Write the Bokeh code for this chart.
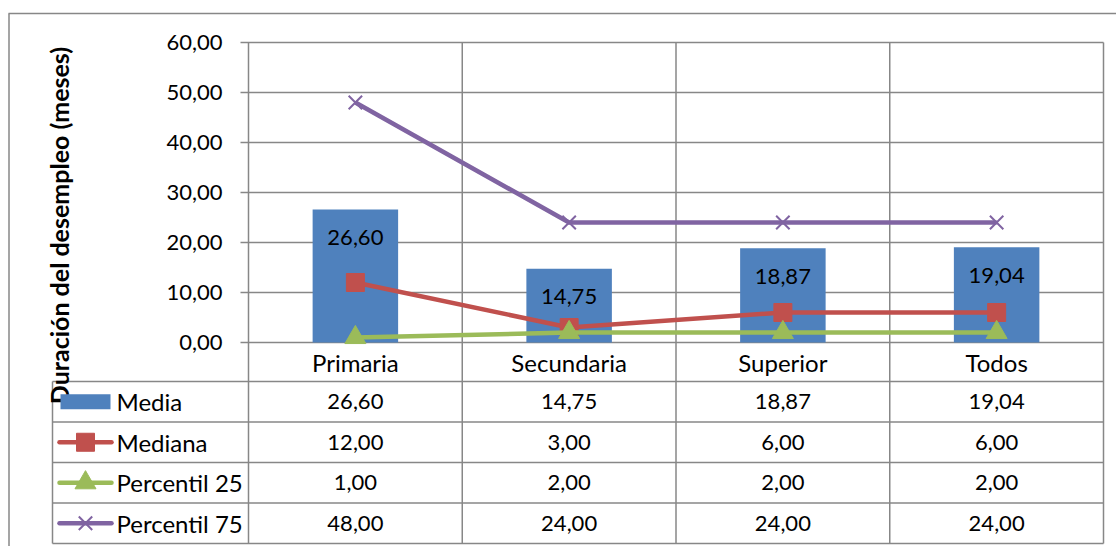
from bokeh.plotting import figure
from bokeh.models import Range1d, ColumnDataSource
from bokeh.core.properties import value
from bokeh.embed import file_html
from bokeh.resources import INLINE

# ---------------- data ----------------
categories = ["Primaria", "Secundaria", "Superior", "Todos"]
media = [26.60, 14.75, 18.87, 19.04]
mediana = [12.00, 3.00, 6.00, 6.00]
percentil_25 = [1.00, 2.00, 2.00, 2.00]
percentil_75 = [48.00, 24.00, 24.00, 24.00]
series_names = ["Media", "Mediana", "Percentil 25", "Percentil 75"]
y_ticks = [0, 10, 20, 30, 40, 50, 60]
y_title = "Duración del desempleo (meses)"

series_values = [media, mediana, percentil_25, percentil_75]


def fmt(v):
    return f"{v:.2f}".replace(".", ",")


# ---------------- layout (page pixels) ----------------
W, H = 1116, 546          # figure size, placed at page (0, 0)
X0, XU = 248.0, 213.75    # page x of category 0 left edge, px per category
Y0, YU = 342.0, 5.0       # page y of value 0, px per unit
CAT_ROW_H = 39.0
ROW_H = 40.5
TABLE_LEFT = 52.0

FONT = "Lato"
FS_NUM = "22px"
FS_TXT = "24px"
FS_TITLE = "25px"
GRID = "#878787"
C_BAR = "#4F81BD"
C_MED = "#C0504D"
C_P25 = "#9BBB59"
C_P75 = "#8064A2"


def dx(px):
    return (px - X0) / XU


def dy(py):
    return (Y0 - py) / YU


p = figure(width=W, height=H,
           x_range=Range1d(dx(0), dx(W)),
           y_range=Range1d(dy(H), dy(0)),
           x_axis_location=None, y_axis_location=None,
           output_backend="svg", toolbar_location=None,
           min_border=0)
p.grid.visible = False
p.outline_line_color = None
p.background_fill_color = "white"
p.border_fill_color = "white"

n = len(categories)
ymax = max(y_ticks)
table_top = dy(Y0 + CAT_ROW_H)
row_edges = [dy(Y0 + CAT_ROW_H + ROW_H * k) for k in range(len(series_names) + 1)]
table_bottom = row_edges[-1]
row_centers = [(row_edges[k] + row_edges[k + 1]) / 2 for k in range(len(series_names))]

# outer chart border (top and left)
p.segment(x0=[dx(8), dx(8.5)], y0=[dy(13), dy(13)], x1=[dx(W), dx(8.5)], y1=[dy(13), dy(H)],
          line_color=GRID, line_width=1.5)

# horizontal gridlines with tick stubs
p.segment(x0=[dx(240)] * len(y_ticks), y0=y_ticks, x1=[n] * len(y_ticks), y1=y_ticks,
          line_color=GRID, line_width=1.5)
# vertical lines (category boundaries through table)
p.segment(x0=list(range(n + 1)), y0=[ymax] * (n + 1), x1=list(range(n + 1)), y1=[table_bottom] * (n + 1),
          line_color=GRID, line_width=1.5)
# table horizontal lines
p.segment(x0=[dx(TABLE_LEFT)] * len(row_edges), y0=row_edges, x1=[n] * len(row_edges), y1=row_edges,
          line_color=GRID, line_width=1.5)
# table left border
p.segment(x0=[dx(TABLE_LEFT)], y0=[table_top], x1=[dx(TABLE_LEFT)], y1=[table_bottom],
          line_color=GRID, line_width=1.5)

# y tick labels
p.text(x=[dx(222)] * len(y_ticks), y=y_ticks, text=[fmt(t) for t in y_ticks],
       text_align="right", text_baseline="middle", text_font=value(FONT),
       text_font_size=FS_NUM, text_color="black")

# y title
p.text(x=[dx(58)], y=[dy(225)], text=[y_title], angle=1.5707963,
       text_align="center", text_baseline="middle", text_font=value(FONT),
       text_font_size=FS_TITLE, text_font_style="bold", text_color="black")

xc = [i + 0.5 for i in range(n)]
src = ColumnDataSource(dict(x=xc, cat=categories, media=media, mediana=mediana,
                            p25=percentil_25, p75=percentil_75,
                            media_lbl=[fmt(v) for v in media],
                            lbl_y=[v - 28 / YU for v in media]))

# bars
p.vbar(x="x", top="media", bottom=0, width=0.4, source=src,
       fill_color=C_BAR, line_color=None)

# lines
p.line(x="x", y="mediana", source=src, line_color=C_MED, line_width=4.5, line_join="round")
p.scatter(x="x", y="mediana", source=src, marker="square", size=18,
          fill_color=C_MED, line_color=C_MED)
p.line(x="x", y="p25", source=src, line_color=C_P25, line_width=4.5, line_join="round")
p.scatter(x="x", y="p25", source=src, marker="triangle", size=21,
          fill_color=C_P25, line_color=C_P25)
p.line(x="x", y="p75", source=src, line_color=C_P75, line_width=4.5, line_join="round")
p.scatter(x="x", y="p75", source=src, marker="x", size=19,
          line_color=C_P75, line_width=2)

# bar data labels
p.text(x="x", y="lbl_y", text="media_lbl", source=src, text_align="center",
       text_baseline="middle", text_font=value(FONT), text_font_size=FS_NUM, text_color="black")

# category labels
p.text(x=xc, y=[dy(Y0 + CAT_ROW_H / 2)] * n, text=categories, text_align="center",
       text_baseline="middle", text_font=value(FONT), text_font_size=FS_TXT, text_color="black")

# table values
for k, vals in enumerate(series_values):
    p.text(x=xc, y=[row_centers[k]] * n, text=[fmt(v) for v in vals], text_align="center",
           text_baseline="middle", text_font=value(FONT), text_font_size=FS_NUM, text_color="black")

# legend column: names
p.text(x=[dx(116)] * len(series_names), y=row_centers, text=series_names, text_align="left",
       text_baseline="middle", text_font=value(FONT), text_font_size=FS_TXT, text_color="black")

# legend swatches
p.rect(x=[dx(85)], y=[row_centers[0]], width=50, height=15, width_units="screen",
       height_units="screen", fill_color=C_BAR, line_color=None)
for k, (col, mk) in enumerate([(C_MED, "square"), (C_P25, "triangle"), (C_P75, "x")], start=1):
    p.line(x=[dx(59), dx(111)], y=[row_centers[k]] * 2, line_color=col, line_width=4.5, line_cap="round")
    if mk == "x":
        p.scatter(x=[dx(85)], y=[row_centers[k]], marker=mk, size=19, line_color=col, line_width=2)
    else:
        p.scatter(x=[dx(85)], y=[row_centers[k]], marker=mk, size=18 if mk == "square" else 21,
                  fill_color=col, line_color=col)

open("out.html", "w").write(file_html(p, INLINE))
